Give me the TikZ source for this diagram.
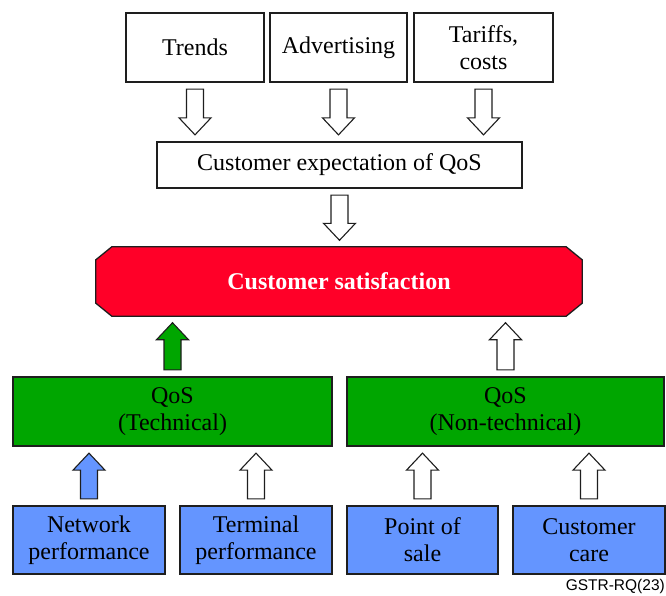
\documentclass[tikz,border=0pt]{standalone}
\usepackage{fontspec}
\setmainfont{Liberation Serif}
\newfontfamily\labelfont{Liberation Sans}
\usetikzlibrary{calc,backgrounds}

\definecolor{satred}{RGB}{255,0,40}
\definecolor{qosgreen}{RGB}{0,166,0}
\definecolor{perfblue}{RGB}{100,149,255}
\definecolor{edge}{RGB}{30,30,30}

% vertical block arrow from node anchor #1 to node anchor #2, filled with #3
\newcommand\blockarrow[3]{%
  \path[blockarr,fill=#3]
    let \p1=($(#1)!6.5pt!(#2)$), \p2=($(#2)!6.5pt!(#1)$),
        \n1={sign(\y2-\y1)} in
    (\x1-8.5pt,\y1) -- (\x1-8.5pt,{\y2-\n1*17pt}) -- (\x1-16pt,{\y2-\n1*17pt})
    -- (\x1,\y2) -- (\x1+16pt,{\y2-\n1*17pt}) -- (\x1+8.5pt,{\y2-\n1*17pt})
    -- (\x1+8.5pt,\y1) -- cycle;}

\begin{document}
\begin{tikzpicture}[x=1pt,y=-1pt,
  every node/.style={font=\fontsize{24}{27}\selectfont, align=center, inner sep=0pt},
  box/.style={draw=edge, line width=1.3pt, rectangle},
  topbox/.style={box, fill=white, minimum height=69pt},
  qosbox/.style={box, fill=qosgreen, minimum height=69pt},
  perfbox/.style={box, fill=perfblue, minimum height=68pt},
  blockarr/.style={draw=edge, line width=1.1pt, line join=miter}]
  \useasboundingbox (0,0) rectangle (666,596);

  % influences on the expectation
  \node[topbox, minimum width=138pt] (trends) at (195,47.5) {Trends};
  \node[topbox, minimum width=137pt] (advert) at (338.5,47.5) {Advertising};
  \node[topbox, minimum width=139pt] (tariffs) at (483.5,47.5) {Tariffs,\\costs};

  \node[box, fill=white, minimum width=365pt, minimum height=46pt] (expect) at (339.5,165)
    {Customer expectation of QoS};

  % customer satisfaction: octagonal plate drawn behind its label
  \node[minimum width=486pt, minimum height=69pt, text=white,
        font=\fontsize{24}{27}\selectfont\bfseries] (sat) at (339,281.5)
    {Customer satisfaction};
  \begin{scope}[on background layer]
    \draw[edge, line width=1.3pt, fill=satred, line join=miter]
      ($(sat.north west)+(16,0)$) -- ($(sat.north east)+(-16,0)$)
      -- ($(sat.north east)+(0,13)$) -- ($(sat.south east)+(0,-13)$)
      -- ($(sat.south east)+(-16,0)$) -- ($(sat.south west)+(16,0)$)
      -- ($(sat.south west)+(0,-13)$) -- ($(sat.north west)+(0,13)$) -- cycle;
  \end{scope}

  % quality of service
  \node[qosbox, minimum width=319pt] (qtech) at (172.5,411.5) {QoS\\(Technical)};
  \node[qosbox, minimum width=317pt] (qnon) at (505.5,411.5) {QoS\\(Non-technical)};

  % contributing factors
  \node[perfbox, minimum width=152pt] (net) at (89,540) {Network\\performance};
  \node[perfbox, minimum width=152pt] (term) at (256,540) {Terminal\\performance};
  \node[perfbox, minimum width=151pt] (pos) at (422.5,540) {Point of\\sale};
  \node[perfbox, minimum width=152pt] (care) at (589,540) {Customer\\care};

  \node[anchor=east, font=\labelfont\fontsize{15.5}{18}\selectfont] (ref) at (665,586) {GSTR-RQ(23)};

  % arrows
  \blockarrow{trends.south}{trends.south|-expect.north}{white}
  \blockarrow{advert.south}{advert.south|-expect.north}{white}
  \blockarrow{tariffs.south}{tariffs.south|-expect.north}{white}
  \blockarrow{expect.south}{expect.south|-sat.north}{white}
  \blockarrow{qtech.north}{qtech.north|-sat.south}{qosgreen}
  \blockarrow{qnon.north}{qnon.north|-sat.south}{white}
  \blockarrow{net.north}{net.north|-qtech.south}{perfblue}
  \blockarrow{term.north}{term.north|-qtech.south}{white}
  \blockarrow{pos.north}{pos.north|-qnon.south}{white}
  \blockarrow{care.north}{care.north|-qnon.south}{white}
\end{tikzpicture}
\end{document}
